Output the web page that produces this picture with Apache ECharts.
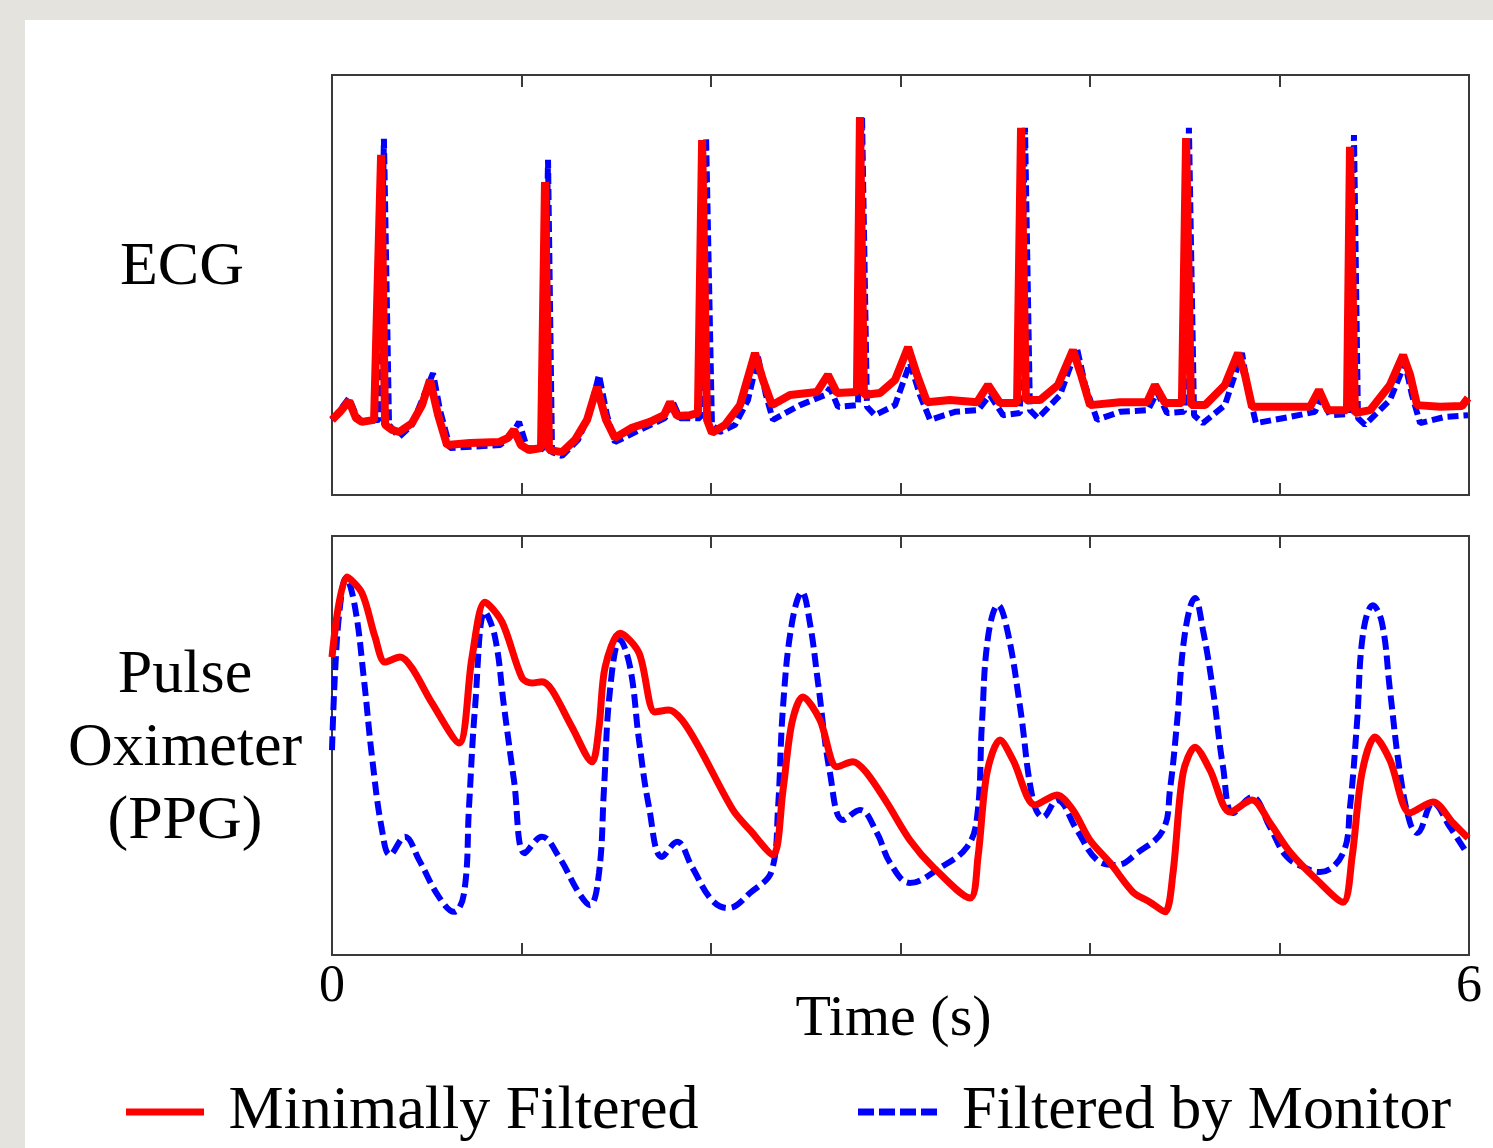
<!DOCTYPE html>
<html><head><meta charset="utf-8">
<script src="https://cdn.jsdelivr.net/npm/echarts@6/dist/echarts.min.js"></script>
<style>
html,body{margin:0;padding:0;background:#e4e3de;width:1493px;height:1148px;overflow:hidden}
#chart{position:absolute;left:25px;top:20px;width:1468px;height:1128px;background:#fff}
</style></head><body><div id="chart"></div>
<script>
// time in seconds, amplitude in normalized units (0-100 of panel height)
const timeTickLabels = ['0', '', '', '', '', '', '6'];
const seriesNames = ['Minimally Filtered', 'Filtered by Monitor'];
const panelLabels = ['ECG', 'Pulse\nOximeter\n(PPG)'];

const ecgMinimal = [[0,17.9],[0.042,19.8],[0.090,22.4],[0.127,18.3],[0.158,17.4],[0.222,17.9],[0.232,18.0],[0.259,81.0],[0.280,16.7],[0.317,15.5],[0.354,15.0],[0.422,17.1],[0.475,21.4],[0.517,27.4],[0.560,19.0],[0.607,11.9],[0.728,12.4],[0.881,12.6],[0.929,13.6],[0.960,15.5],[0.997,11.9],[1.040,10.7],[1.103,11.2],[1.124,74.5],[1.145,10.7],[1.214,10.2],[1.282,13.1],[1.346,17.9],[1.398,25.7],[1.446,17.9],[1.493,13.6],[1.583,16.0],[1.678,17.4],[1.752,19.0],[1.784,22.1],[1.821,18.8],[1.889,19.0],[1.931,19.5],[1.953,84.5],[1.979,17.9],[2.005,14.8],[2.074,16.7],[2.153,21.4],[2.232,33.8],[2.274,27.4],[2.322,21.4],[2.417,23.8],[2.559,24.5],[2.617,28.6],[2.665,24.3],[2.770,24.5],[2.786,90.0],[2.807,23.8],[2.892,24.3],[2.971,27.4],[3.040,35.2],[3.087,28.6],[3.140,22.1],[3.261,22.6],[3.404,22.1],[3.462,26.2],[3.525,21.9],[3.615,21.9],[3.636,87.4],[3.662,22.6],[3.736,22.6],[3.831,26.2],[3.910,34.5],[3.953,28.6],[4.000,21.4],[4.158,22.1],[4.301,22.1],[4.343,26.2],[4.396,21.9],[4.485,21.9],[4.507,85.0],[4.533,21.4],[4.607,21.4],[4.712,26.2],[4.781,33.8],[4.818,28.6],[4.855,21.0],[5.040,21.0],[5.161,21.0],[5.208,25.0],[5.256,20.2],[5.356,20.2],[5.372,82.9],[5.398,19.5],[5.478,20.2],[5.583,26.2],[5.652,33.3],[5.689,28.6],[5.726,21.4],[5.847,21.0],[5.963,21.2],[5.995,23.1]];

const ecgMonitor = [[0,17.9],[0.042,20.2],[0.090,23.1],[0.127,19.0],[0.158,17.4],[0.248,17.9],[0.274,84.8],[0.301,16.7],[0.354,13.8],[0.422,16.7],[0.533,29.0],[0.570,20.2],[0.623,11.2],[0.887,11.9],[0.950,14.3],[0.987,17.4],[1.029,11.2],[1.113,10.9],[1.140,79.8],[1.161,10.2],[1.214,9.3],[1.298,13.1],[1.356,19.0],[1.409,28.6],[1.451,19.0],[1.493,12.6],[1.625,15.5],[1.757,18.3],[1.794,22.6],[1.836,18.3],[1.942,18.3],[1.974,85.2],[2.005,16.7],[2.047,15.0],[2.127,16.7],[2.195,22.6],[2.248,32.9],[2.290,23.8],[2.327,17.9],[2.470,21.4],[2.602,23.8],[2.628,25.5],[2.670,21.0],[2.776,21.4],[2.797,90.2],[2.823,21.0],[2.865,19.0],[2.971,21.4],[3.050,31.4],[3.103,23.8],[3.156,17.9],[3.288,19.8],[3.409,20.2],[3.472,23.8],[3.541,19.0],[3.630,19.5],[3.657,87.4],[3.683,20.2],[3.726,18.3],[3.842,23.8],[3.931,35.0],[3.974,26.2],[4.037,17.9],[4.158,19.8],[4.306,20.2],[4.354,24.5],[4.406,19.5],[4.496,19.8],[4.522,87.4],[4.549,19.0],[4.596,17.1],[4.712,21.4],[4.802,33.8],[4.834,25.0],[4.876,17.1],[5.055,18.6],[5.187,19.8],[5.219,23.3],[5.266,19.0],[5.367,19.3],[5.393,85.7],[5.414,18.3],[5.451,16.7],[5.583,22.6],[5.662,31.4],[5.699,23.8],[5.742,17.1],[5.873,18.6],[5.995,19.0]];

const ppgMinimal = [[0,71.1],[0.079,90.2],[0.158,86.4],[0.227,75.9],[0.280,69.9],[0.359,71.1],[0.422,68.5],[0.528,60.1],[0.670,50.6],[0.739,71.1],[0.807,84.2],[0.897,79.5],[1.003,66.1],[1.055,64.9],[1.108,65.2],[1.161,63.2],[1.266,54.4],[1.372,46.1],[1.409,54.4],[1.441,68.7],[1.520,76.8],[1.620,72.1],[1.704,58.0],[1.778,58.5],[1.847,56.1],[1.937,49.6],[2.116,34.6],[2.206,29.8],[2.327,23.9],[2.380,39.4],[2.427,55.4],[2.485,61.6],[2.575,56.1],[2.665,44.9],[2.749,46.1],[2.823,43.4],[2.929,36.3],[3.050,27.4],[3.172,21.0],[3.367,13.6],[3.409,23.4],[3.456,43.4],[3.525,51.3],[3.594,46.5],[3.710,35.8],[3.826,38.2],[3.910,34.6],[4.000,27.4],[4.106,22.0],[4.227,15.0],[4.317,12.6],[4.396,10.3],[4.438,19.6],[4.491,43.4],[4.554,49.6],[4.633,44.2],[4.739,34.1],[4.855,37.0],[4.950,31.5],[5.055,24.6],[5.198,17.9],[5.335,12.6],[5.383,23.4],[5.435,43.4],[5.504,52.0],[5.583,46.5],[5.689,33.9],[5.810,36.5],[5.916,31.5],[5.995,27.9]];

const ppgMonitor = [[0,48.9],[0.016,67.3],[0.042,83.1],[0.074,90.0],[0.121,83.1],[0.169,65.6],[0.211,47.3],[0.264,29.8],[0.306,23.9],[0.385,28.2],[0.459,22.7],[0.565,13.8],[0.644,10.3],[0.697,14.8],[0.723,35.3],[0.755,59.2],[0.807,81.9],[0.860,75.9],[0.908,59.2],[0.960,41.8],[1.018,24.3],[1.108,28.2],[1.198,23.4],[1.303,14.8],[1.361,11.9],[1.409,19.6],[1.435,39.4],[1.467,63.2],[1.520,75.2],[1.573,68.7],[1.620,51.3],[1.673,35.3],[1.741,23.4],[1.821,27.0],[1.900,21.0],[2.005,13.1],[2.090,11.2],[2.206,14.8],[2.322,20.3],[2.354,35.3],[2.380,59.2],[2.427,79.2],[2.480,86.6],[2.522,79.2],[2.565,64.9],[2.628,43.4],[2.697,32.2],[2.786,34.6],[2.876,29.1],[2.945,22.0],[3.050,17.2],[3.208,20.8],[3.351,25.8],[3.404,32.9],[3.430,55.4],[3.462,75.9],[3.515,83.5],[3.567,76.8],[3.631,59.2],[3.699,37.0],[3.752,32.9],[3.826,37.0],[3.931,29.8],[4.037,22.7],[4.142,21.5],[4.248,24.3],[4.385,29.8],[4.422,39.4],[4.459,55.4],[4.501,76.8],[4.554,85.2],[4.596,77.6],[4.649,63.2],[4.702,44.9],[4.755,33.9],[4.855,37.7],[4.950,30.5],[5.040,23.4],[5.161,20.3],[5.214,19.8],[5.335,24.3],[5.372,35.3],[5.409,55.4],[5.441,76.8],[5.493,83.5],[5.541,79.2],[5.583,63.2],[5.636,43.4],[5.689,31.5],[5.726,29.1],[5.810,36.3],[5.900,30.5],[5.989,24.3]];

const FONT = "'Liberation Serif', 'DejaVu Serif', serif";
const RED = '#ff0000', BLUE = '#0000ff', AX = '#3a3a3a';
const SOLID_ICON = 'path://M0,0H78V7H0Z';
const DASH_ICON = 'path://M0,0H16V7H0Z M21,0H37V7H21Z M42,0H58V7H42Z M63,0H79V7H63Z';

const chart = echarts.init(document.getElementById('chart'), null, {renderer: 'canvas'});

function xAx(gridIndex, position, showLabels) {
  return {
    type: 'value', gridIndex, position, min: 0, max: 6, interval: 1,
    axisLine: {show: false},
    axisTick: {show: true, inside: true, length: 12, lineStyle: {color: AX, width: 2}},
    splitLine: {show: false},
    axisLabel: {show: showLabels, margin: 6, fontFamily: FONT, fontSize: 52, color: '#000',
      formatter: v => timeTickLabels[Math.round(v)] || '', showMinLabel: true, showMaxLabel: true},
    name: showLabels ? 'Time (s)' : '', nameLocation: 'middle', nameGap: 36, nameMoveOverlap: false,
    nameTextStyle: {fontFamily: FONT, fontSize: 58, color: '#000', padding: [0, 14, 0, 0]}
  };
}
function yAx(gridIndex) {
  return {type: 'value', gridIndex, min: 0, max: 100, show: false, splitLine: {show: false}};
}
function leg(name, icon, left, pad) {
  return {data: [{name, icon}], left, top: 1056, itemWidth: 79, itemHeight: 7, selectedMode: false,
    textStyle: {fontFamily: FONT, fontSize: 62, color: '#000', padding: [0, 0, 0, pad]}};
}

const option = {
  animation: false,
  backgroundColor: '#ffffff',
  title: [
    {text: panelLabels[0], left: 152, top: 212, textAlign: 'center',
     textStyle: {fontFamily: FONT, fontSize: 62, fontWeight: 'normal', color: '#000'}},
    {text: panelLabels[1], left: 155, top: 614, textAlign: 'center',
     textStyle: {fontFamily: FONT, fontSize: 62, fontWeight: 'normal', color: '#000', lineHeight: 73}}
  ],
  legend: [leg(seriesNames[0], SOLID_ICON, 96, 19), leg(seriesNames[1], DASH_ICON, 828, 20)],
  grid: [
    {left: 307, top: 55, width: 1137, height: 420, show: true, borderColor: AX, borderWidth: 2, outerBoundsMode: 'none', containLabel: false},
    {left: 307, top: 516, width: 1137, height: 419, show: true, borderColor: AX, borderWidth: 2, outerBoundsMode: 'none', containLabel: false}
  ],
  xAxis: [xAx(0, 'bottom', false), xAx(0, 'top', false), xAx(1, 'bottom', true), xAx(1, 'top', false)],
  yAxis: [yAx(0), yAx(1)],
  series: [
    {name: seriesNames[1], type: 'line', xAxisIndex: 0, yAxisIndex: 0, data: ecgMonitor, symbol: 'none',
     lineStyle: {color: BLUE, width: 6, type: [11, 5]}, itemStyle: {color: BLUE}},
    {name: seriesNames[0], type: 'line', xAxisIndex: 0, yAxisIndex: 0, data: ecgMinimal, symbol: 'none',
     lineStyle: {color: RED, width: 8}, itemStyle: {color: RED}},
    {name: seriesNames[1], type: 'line', xAxisIndex: 2, yAxisIndex: 1, data: ppgMonitor, symbol: 'none', smooth: 0.4,
     lineStyle: {color: BLUE, width: 6, type: [14, 6]}, itemStyle: {color: BLUE}},
    {name: seriesNames[0], type: 'line', xAxisIndex: 2, yAxisIndex: 1, data: ppgMinimal, symbol: 'none', smooth: 0.3,
     lineStyle: {color: RED, width: 7}, itemStyle: {color: RED}}
  ]
};
chart.setOption(option);
</script></body></html>
